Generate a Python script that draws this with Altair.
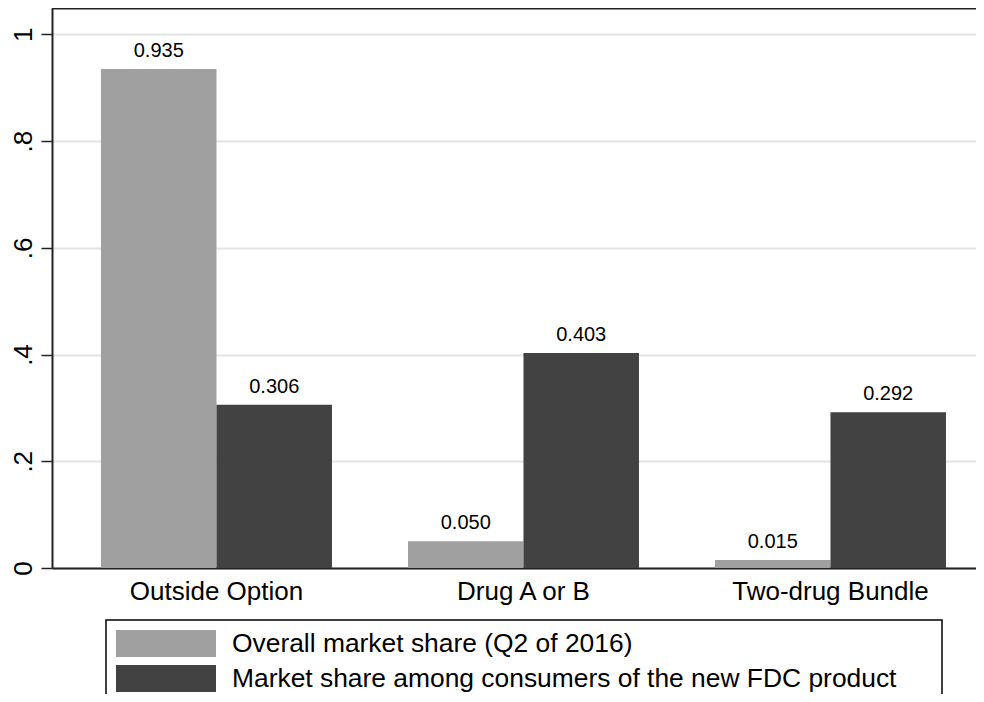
import altair as alt
import pandas as pd

categories = ["Outside Option", "Drug A or B", "Two-drug Bundle"]
series = ["Overall market share (Q2 of 2016)",
          "Market share among consumers of the new FDC product"]
overall = [0.935, 0.050, 0.015]
fdc = [0.306, 0.403, 0.292]
colors = ["#a0a0a0", "#424242"]
y_ticks = [0, 0.2, 0.4, 0.6, 0.8, 1.0]

rows = []
for c, a, b in zip(categories, overall, fdc):
    rows.append({"category": c, "series": series[0], "value": a})
    rows.append({"category": c, "series": series[1], "value": b})
df = pd.DataFrame(rows)

FONT = "Liberation Sans"
W, H = 924, 560

x_enc = alt.X("category:N", sort=categories,
              scale=alt.Scale(paddingInner=0.2476, paddingOuter=0.1287, align=0.62),
              axis=alt.Axis(title=None, labelAngle=0, labelFontSize=26, labelFont=FONT,
                            labelColor="black", tickSize=0, labelPadding=10, labelLimit=600,
                            domainColor="#222222", domainWidth=2, grid=False))
xo_enc = alt.XOffset("series:N", sort=series,
                     scale=alt.Scale(paddingInner=0, paddingOuter=0))
y_enc = alt.Y("value:Q",
              scale=alt.Scale(domain=[0, 1.0493], nice=False, zero=True),
              axis=alt.Axis(title=None, values=y_ticks,
                            labelExpr="(datum.value == 0 || datum.value == 1) ? format(datum.value, 'd') : '.' + format(datum.value * 10, 'd')",
                            labelAngle=270, labelAlign="center", labelBaseline="alphabetic",
                            labelFontSize=26, labelFont=FONT, labelColor="black",
                            tickSize=11, tickColor="#222222", tickWidth=1.5, labelPadding=10,
                            domainColor="#222222", domainWidth=2,
                            grid=True, gridColor="#e3e3e3", gridWidth=2))

base = alt.Chart(df).encode(x=x_enc, xOffset=xo_enc, y=y_enc)

bars = base.mark_bar().encode(
    color=alt.Color("series:N", sort=series,
                    scale=alt.Scale(domain=series, range=colors), legend=None)
)
labels = base.mark_text(baseline="alphabetic", dy=-12, fontSize=20, font=FONT,
                        color="black").encode(text=alt.Text("value:Q", format=".3f"))

one = pd.DataFrame({"k": [0]})
top_rule = alt.Chart(one).mark_rule(color="#222222", strokeWidth=2).encode(
    x=alt.value(0), x2=alt.value(W + 10), y=alt.value(0.5), y2=alt.value(0.5))

legend_box = alt.Chart(one).mark_rect(fill="white", stroke="black", strokeWidth=1.5).encode(
    x=alt.value(54), x2=alt.value(890), y=alt.value(612), y2=alt.value(730))

legend_layers = [legend_box]
row_y = [(622, 649), (657, 684)]
for i, name in enumerate(series):
    ldf = pd.DataFrame({"name": [name]})
    y0, y1 = row_y[i]
    legend_layers.append(
        alt.Chart(ldf).mark_rect(color=colors[i]).encode(
            x=alt.value(64), x2=alt.value(164), y=alt.value(y0), y2=alt.value(y1)))
    legend_layers.append(
        alt.Chart(ldf).mark_text(align="left", baseline="middle", fontSize=26.4, font=FONT,
                                 color="black").encode(
            text="name:N", x=alt.value(180), y=alt.value((y0 + y1) / 2 + 0.5)))

chart = alt.layer(bars, labels, top_rule, *legend_layers).properties(
    width=W, height=H,
    autosize=alt.AutoSizeParams(type="none"),
    padding={"left": 44, "top": 0, "right": 0, "bottom": 126},
    background="white",
    view=alt.ViewBackground(stroke="transparent", strokeWidth=0),
).configure_view(strokeWidth=0, stroke="transparent")

chart.save("out.html", embed_options={"renderer": "svg", "actions": False})
